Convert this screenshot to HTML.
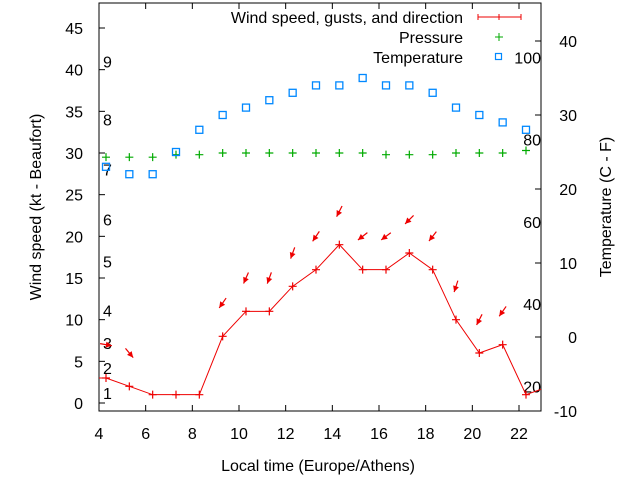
<!DOCTYPE html>
<html><head><meta charset="utf-8"><style>
html,body{margin:0;padding:0;background:#fff}
svg{display:block;font-family:"Liberation Sans",sans-serif}
text{font-size:16px;fill:#000}
</style></head><body>
<svg id="chart" width="640" height="480" viewBox="0 0 640 480" xmlns="http://www.w3.org/2000/svg">
<rect x="99" y="3" width="442" height="408" fill="none" stroke="#000"/>
<g id="axes"></g>
<g id="marks"></g>
<text x="318" y="471" text-anchor="middle">Local time (Europe/Athens)</text>
<text transform="translate(41,207) rotate(-90)" text-anchor="middle">Wind speed (kt - Beaufort)</text>
<text transform="translate(611,207) rotate(-90)" text-anchor="middle">Temperature (C - F)</text>
<g>
<text x="463" y="23" text-anchor="end">Wind speed, gusts, and direction</text>
<text x="463" y="43" text-anchor="end">Pressure</text>
<text x="463" y="63" text-anchor="end">Temperature</text>
<g stroke="#e00" stroke-width="1"><line x1="478" y1="17" x2="521" y2="17"/><line x1="478" y1="14" x2="478" y2="20"/><line x1="521" y1="14" x2="521" y2="20"/><line x1="499" y1="14" x2="499" y2="20"/></g>
<g stroke="#0a0"><line x1="495" y1="37" x2="503" y2="37"/><line x1="499" y1="33" x2="499" y2="41"/></g>
<rect x="495.5" y="53.5" width="6" height="6" fill="none" stroke="#08f" stroke-width="1.2"/>
</g>
</svg>
<script>
const hours=[4.3,5.3,6.3,7.3,8.3,9.3,10.3,11.3,12.3,13.3,14.3,15.3,16.3,17.3,18.3,19.3,20.3,21.3,22.3,23.3];
const wind=[3,2,1,1,1,8,11,11,14,16,19,16,16,18,16,10,6,7,1,2];
const gustHours=[4.3,5.3,9.3,10.3,11.3,12.3,13.3,14.3,15.3,16.3,17.3,18.3,19.3,20.3,21.3];
const gust=[7,6,12,15,15,18,20,23,20,20,22,20,14,10,11];
const dir=[280,320,35,24,20,20,34,27,52,53,45,38,18,27,35];
const pressure=[29.5,29.5,29.5,29.8,29.8,30,30,30,30,30,30,30,29.8,29.8,29.8,30,30,30,30.3];
const tempC=[23,22,22,25,28,30,31,32,33,34,34,35,34,34,33,31,30,29,28];
const xTicks=[4,6,8,10,12,14,16,18,20,22];
const yTicks=[0,5,10,15,20,25,30,35,40,45];
const y2Ticks=[-10,0,10,20,30,40];
const beaufortLabels=["1","2","3","4","5","6","7","8","9"];
const beaufortKt=[1.2,4.2,7.2,11.1,17,22,28,34,41];
const fahrenheit=[20,40,60,80,100];

const NS="http://www.w3.org/2000/svg";
const L=99,R=541,T=3,B=411;
const X=h=>L+(h-4)*(420/18);
const Y=v=>403-v*(375/45);
const Y2=c=>337-c*7.4;
const axes=document.getElementById('axes'),marks=document.getElementById('marks');
function el(tag,attrs,parent,txt){const e=document.createElementNS(NS,tag);for(const k in attrs)e.setAttribute(k,attrs[k]);if(txt!==undefined)e.textContent=txt;parent.appendChild(e);return e;}

xTicks.forEach(t=>{const x=X(t);
 const g=el('g',{},axes);
 
 
 el('line',{x1:x,y1:B,x2:x,y2:B-6,stroke:'#000'},g);
 el('line',{x1:x,y1:T,x2:x,y2:T+6,stroke:'#000'},g);
 el('text',{x:x,y:439,'text-anchor':'middle'},g,String(t));});
yTicks.forEach(t=>{const y=Y(t);
 const g=el('g',{},axes);
 
 
 el('line',{x1:L,y1:y,x2:L+6,y2:y,stroke:'#000'},g);
 el('text',{x:83,y:y+6,'text-anchor':'end'},g,String(t));});
y2Ticks.forEach(t=>{const y=Y2(t);
 const g=el('g',{},axes);
 
 
 el('line',{x1:R,y1:y,x2:R-6,y2:y,stroke:'#000'},g);
 el('text',{x:577,y:y+6,'text-anchor':'end'},g,String(t));});
beaufortLabels.forEach((b,i)=>{
 const t=el('text',{x:103,y:Y(beaufortKt[i])+6},axes,b);
 
 });
fahrenheit.forEach(f=>{
 const t=el('text',{x:541,y:Y2((f-32)*5/9)+6,'text-anchor':'end'},axes,String(f));
 
 });

const defs=el('defs',{},marks);const cp=el('clipPath',{id:'clip'},defs);el('rect',{x:L,y:T,width:R-L,height:B-T},cp);
const clipG=el('g',{'clip-path':'url(#clip)'},marks);

let pts=[[X(3.3),Y(3)]].concat(hours.map((h,i)=>[X(h),Y(wind[i])]));
const wl=el('polyline',{points:pts.map(p=>p.join(',')).join(' '),fill:'none',stroke:'#e00','stroke-width':1},clipG);


hours.forEach((h,i)=>{if(h>23)return;const x=X(h),y=Y(wind[i]);
 const p=el('path',{d:`M${x-4},${y}H${x+4}M${x},${y-4}V${y+4}`,stroke:'#e00','stroke-width':1.2},clipG);
 
 });

gustHours.forEach((h,i)=>{const cx=X(h),cy=Y(gust[i]);const a=dir[i]*Math.PI/180;
 const dx=-Math.sin(a),dy=Math.cos(a);const len=12;
 const x1=cx-dx*len/2,y1=cy-dy*len/2,x2=cx+dx*len/2,y2=cy+dy*len/2;
 const g=el('g',{},clipG);
 
 
 el('line',{x1:x1,y1:y1,x2:x2,y2:y2,stroke:'#e00','stroke-width':1.2},g);
 const px=-dy,py=dx,hl=6,hw=3;
 const bx=x2-dx*hl,by=y2-dy*hl;
 el('polygon',{points:`${x2},${y2} ${bx+px*hw},${by+py*hw} ${bx-px*hw},${by-py*hw}`,fill:'#e00'},g);});

hours.forEach((h,i)=>{if(i>=pressure.length)return;const x=X(h),y=Y(pressure[i]);
 const p=el('path',{d:`M${x-4},${y}H${x+4}M${x},${y-4}V${y+4}`,stroke:'#0a0','stroke-width':1.2},clipG);
 
 });

hours.forEach((h,i)=>{if(i>=tempC.length)return;const x=X(h),y=Y2(tempC[i]);
 const r=el('rect',{x:x-3.5,y:y-3.5,width:7,height:7,fill:'none',stroke:'#08f','stroke-width':1.3},clipG);
 
 });
</script>
</body></html>
